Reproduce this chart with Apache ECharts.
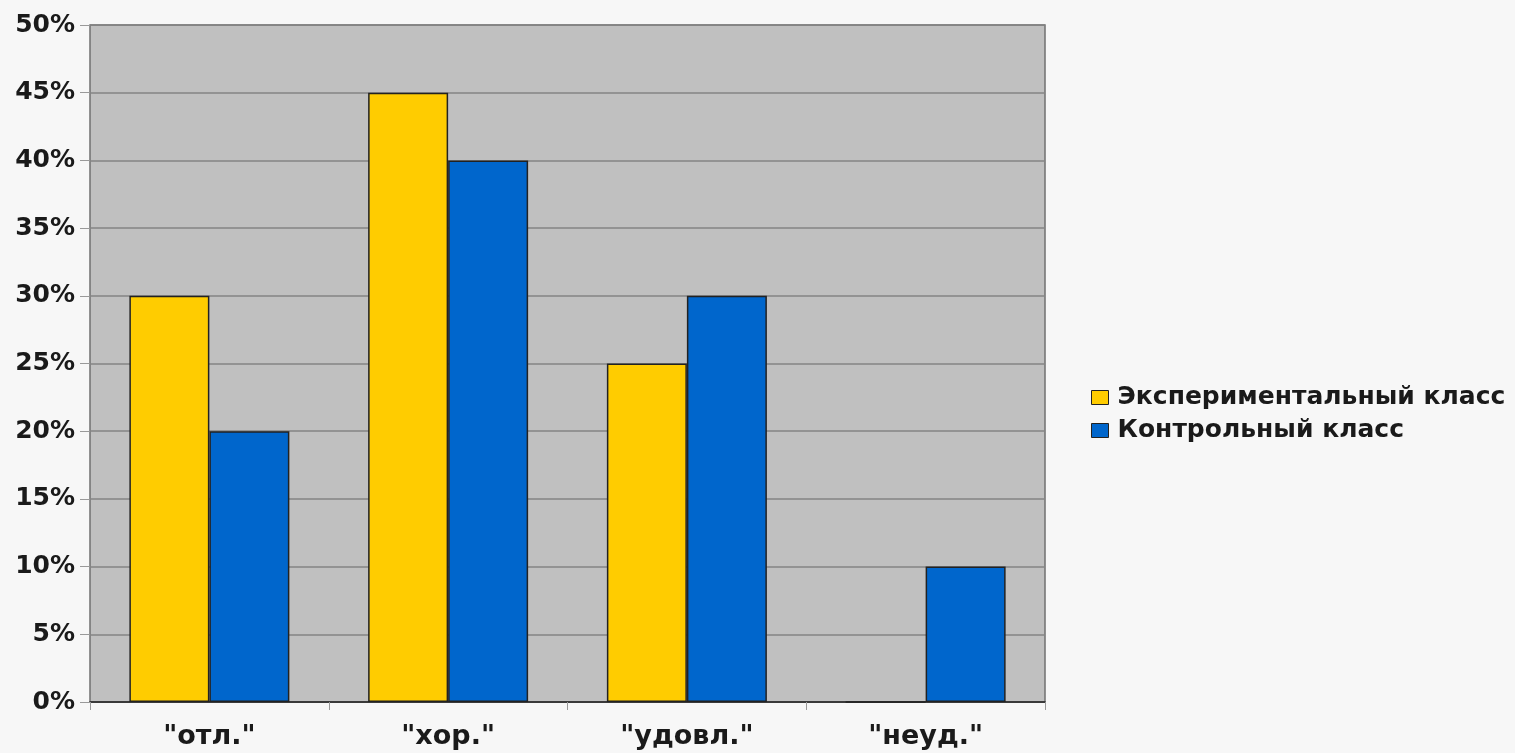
<!DOCTYPE html>
<html><head><meta charset="utf-8">
<script src="https://cdn.jsdelivr.net/npm/echarts@6/dist/echarts.min.js"></script>
<style>html,body{margin:0;padding:0;background:#f7f7f7;}#c{width:1515px;height:753px;}</style>
</head><body><div id="c"></div>
<script>
const categories = ['"отл."', '"хор."', '"удовл."', '"неуд."'];
const experimental = [30, 45, 25, 0];
const control = [20, 40, 30, 10];
const seriesNames = ['Экспериментальный класс', 'Контрольный класс'];

const chart = echarts.init(document.getElementById('c'));
chart.setOption({
  backgroundColor: '#f7f7f7',
  animation: false,
  textStyle: { fontFamily: 'DejaVu Sans, sans-serif' },
  grid: { left: 90, right: 470, top: 25, bottom: 51, show: true, backgroundColor: '#c0c0c0', borderColor: '#707070', borderWidth: 1.5 },
  legend: {
    orient: 'vertical', left: 1086, top: 380, itemWidth: 17, itemHeight: 14, itemGap: 8,
    icon: 'rect',
    itemStyle: { borderColor: '#222', borderWidth: 1 },
    textStyle: { fontSize: 25, fontWeight: 'bold', color: '#1a1a1a', lineHeight: 18, padding: [0,0,0,4] },
    data: seriesNames
  },
  xAxis: {
    type: 'category', data: categories,
    axisLine: { show: true, lineStyle: { color: '#222', width: 1.5 } },
    axisTick: { show: true, length: 8, lineStyle: { color: '#999' } },
    axisLabel: { fontSize: 27, fontWeight: 'bold', color: '#1a1a1a', margin: 21 }
  },
  yAxis: {
    type: 'value', min: 0, max: 50, interval: 5,
    axisLine: { show: false },
    axisTick: { show: true, inside: false, length: 10, lineStyle: { color: '#999' } },
    splitLine: { show: true, lineStyle: { color: '#858585', width: 1.5 } },
    axisLabel: { formatter: '{value}%', fontSize: 25, fontWeight: 'bold', color: '#1a1a1a', margin: 15 }
  },
  series: [
    { name: seriesNames[0], type: 'bar', data: experimental, barWidth: 80, barGap: '0%',
      itemStyle: { color: '#ffcc00', borderColor: '#222', borderWidth: 1.5 } },
    { name: seriesNames[1], type: 'bar', data: control, barWidth: 80, barGap: '0%',
      itemStyle: { color: '#0066cc', borderColor: '#222', borderWidth: 1.5 } }
  ]
});
</script></body></html>
